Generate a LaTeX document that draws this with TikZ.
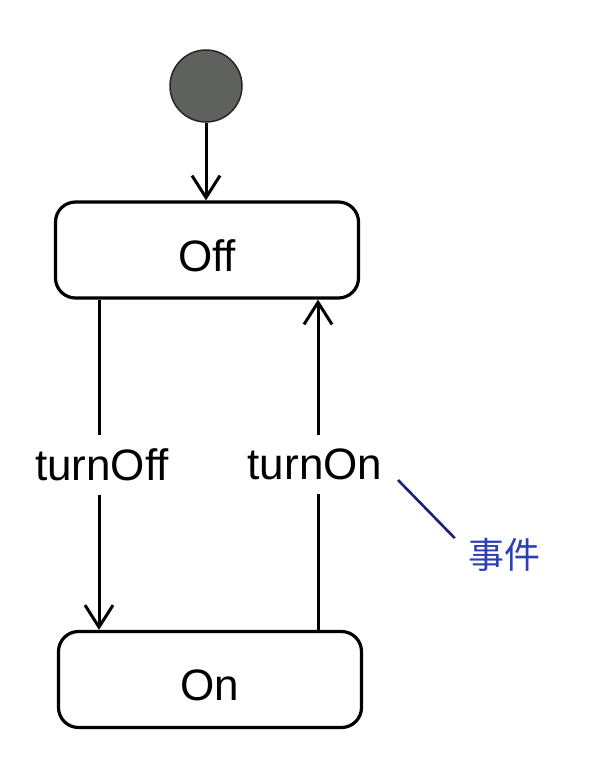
\documentclass[tikz,border=0pt]{standalone}
\usepackage{fontspec}
\setmainfont{Liberation Sans}
\newfontfamily\cjk{Noto Sans CJK SC}
\usetikzlibrary{arrows.meta}
\definecolor{initgray}{HTML}{5E615E}
\definecolor{evblue}{HTML}{2E3FB0}
\definecolor{evline}{HTML}{1C1F78}
\begin{document}
\begin{tikzpicture}[x=1pt,y=-1pt,
  statebox/.style={draw=black,line width=3.2pt,rounded corners=20pt,fill=white,
    minimum width=303pt,minimum height=96pt,inner sep=0pt,
    text height=42pt,text depth=0pt,font=\fontsize{44}{48}\selectfont},
  conn/.style={line width=3pt,draw=black},
  tip/.style={-{Straight Barb[length=22pt,width=28pt,line width=3pt]}},
  lbl/.style={fill=white,inner xsep=1pt,inner ysep=14pt,font=\fontsize{44}{48}\selectfont}]
\useasboundingbox (0,0) rectangle (604,758);
\node[circle,fill=initgray,draw=black!85,line width=1.5pt,minimum size=72pt,inner sep=0pt] (init) at (206,86) {};
\node[statebox] (off) at (207,250) {Off};
\node[statebox] (on) at (210,679.5) {On};
\draw[conn,tip] (init.south) -- (off.north -| init.south);
\coordinate (l1) at (off.south -| 99,0);
\coordinate (l2) at (on.north -| 99,0);
\draw[conn,tip] (l1) -- node[lbl,xshift=3pt] (toff) {turnOff} (l2);
\coordinate (r1) at (on.north -| 318,0);
\coordinate (r2) at (off.south -| 318,0);
\draw[conn,tip] (r1) -- node[lbl,pos=0.5,xshift=-3pt] (ton) {turnOn} (r2);
\node[text=evblue,inner xsep=13pt,inner ysep=0pt,font=\cjk\fontsize{36}{40}\selectfont] (ev) at (504,555) {事件};
\coordinate (evs) at (398,480);
\draw[evline,line width=2.6pt] (evs) -- (ev.north west);
\end{tikzpicture}
\end{document}
